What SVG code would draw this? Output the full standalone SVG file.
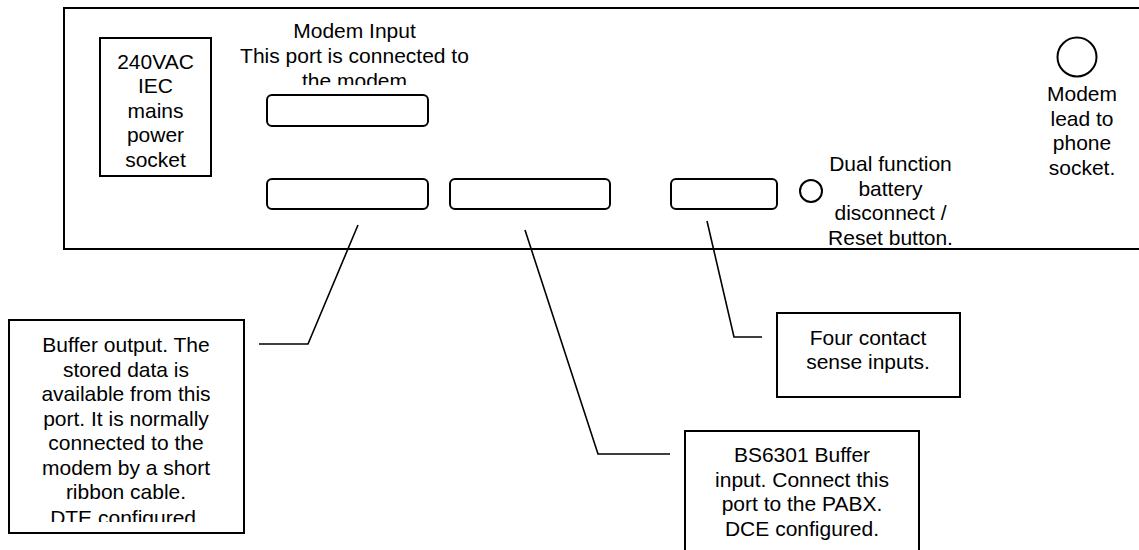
<svg xmlns="http://www.w3.org/2000/svg" width="1139" height="550" viewBox="0 0 1139 550">
<style>
.box{fill:#fff;stroke:#000;stroke-width:2}
.port{fill:#fff;stroke:#000;stroke-width:2}
.conn{fill:none;stroke:#000;stroke-width:1.6}
text{font-family:"Liberation Sans",Arial,sans-serif;font-size:21px;fill:#000;text-anchor:middle}
</style>
<defs>
<clipPath id="clipModem"><rect x="200" y="0" width="320" height="85"/></clipPath>
<clipPath id="clipBuffer"><rect x="0" y="300" width="260" height="222"/></clipPath>
</defs>
<rect width="1139" height="550" fill="#fff"/>
<g id="panel">
<rect class="box" x="64" y="8" width="1100" height="241"/>
</g>
<g id="power-socket">
<rect class="box" x="100" y="38" width="111" height="138"/>
<text x="155.5" y="68.5">240VAC</text>
<text x="155.5" y="93">IEC</text>
<text x="155.5" y="117.5">mains</text>
<text x="155.5" y="142">power</text>
<text x="155.5" y="166.5">socket</text>
</g>
<g id="modem-input">
<g clip-path="url(#clipModem)">
<text x="354.5" y="38">Modem Input</text>
<text x="354.5" y="62.5">This port is connected to</text>
<text x="354.5" y="87.5">the modem</text>
</g>
<rect class="port" x="267" y="95" width="161" height="31" rx="5"/>
</g>
<g id="buffer-output-port"><rect class="port" x="267" y="179" width="161" height="30" rx="5"/></g>
<g id="buffer-input-port"><rect class="port" x="450" y="179" width="160" height="30" rx="5"/></g>
<g id="sense-port"><rect class="port" x="671" y="179" width="106" height="30" rx="5"/></g>
<g id="reset-button">
<circle class="port" cx="811" cy="191" r="11"/>
<text x="890.5" y="171">Dual function</text>
<text x="890.5" y="195.5">battery</text>
<text x="890.5" y="220">disconnect /</text>
<text x="890.5" y="244.5">Reset button.</text>
</g>
<g id="phone-socket">
<circle class="port" cx="1077" cy="57" r="19.5"/>
<text x="1082" y="101">Modem</text>
<text x="1082" y="125.5">lead to</text>
<text x="1082" y="150">phone</text>
<text x="1082" y="174.5">socket.</text>
</g>
<g id="connectors">
<polyline class="conn" points="358,225 308,344 259,344"/>
<polyline class="conn" points="525,230 598,454 670,454"/>
<polyline class="conn" points="707,221 734,337 762,337"/>
</g>
<g id="buffer-output-note">
<rect class="box" x="9" y="320" width="235" height="213"/>
<g clip-path="url(#clipBuffer)">
<text x="126" y="352">Buffer output. The</text>
<text x="126" y="376.5">stored data is</text>
<text x="126" y="401">available from this</text>
<text x="126" y="425.5">port. It is normally</text>
<text x="126" y="450">connected to the</text>
<text x="126" y="474.5">modem by a short</text>
<text x="126" y="499">ribbon cable.</text>
<text x="126" y="524.5">DTE configured.</text>
</g>
</g>
<g id="sense-note">
<rect class="box" x="777" y="313" width="183" height="84"/>
<text x="868" y="345">Four contact</text>
<text x="868" y="369">sense inputs.</text>
</g>
<g id="buffer-input-note">
<rect class="box" x="685" y="431" width="234" height="130"/>
<text x="802" y="462">BS6301 Buffer</text>
<text x="802" y="486.5">input. Connect this</text>
<text x="802" y="511">port to the PABX.</text>
<text x="802" y="535.5">DCE configured.</text>
</g>
</svg>
